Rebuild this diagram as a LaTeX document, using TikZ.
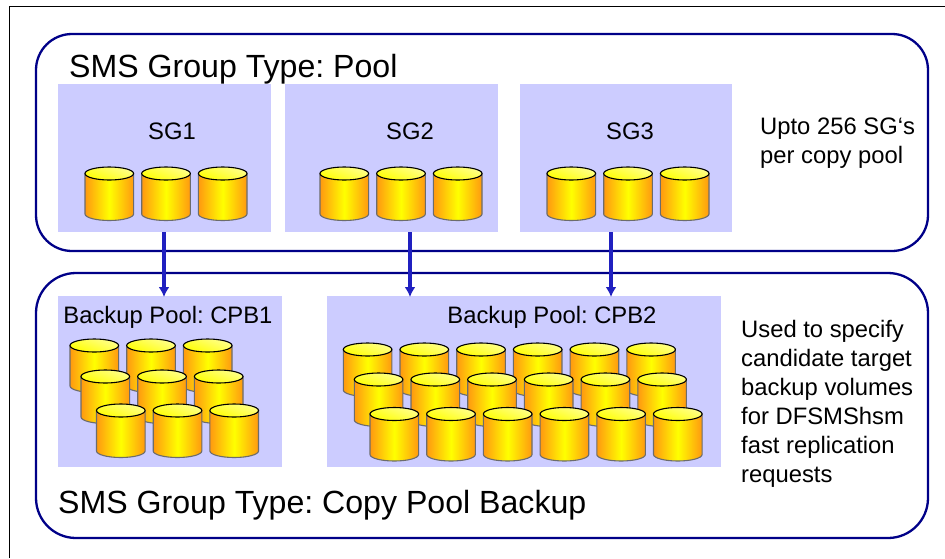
\documentclass[tikz,border=0pt]{standalone}
\usepackage{fontspec}
\setmainfont{Liberation Sans}
\usetikzlibrary{arrows.meta}
\definecolor{framenavy}{RGB}{0,0,136}
\definecolor{panelblue}{RGB}{204,204,255}
\definecolor{arrowblue}{RGB}{32,32,192}
\definecolor{diskorange}{RGB}{255,153,16}
\tikzset{
  groupbox/.style={draw=framenavy,line width=2.3pt,fill=white},
  poolarrow/.style={draw=arrowblue,line width=3.6pt,-{Latex[length=10pt,width=11pt]}},
  titletext/.style={anchor=base west,inner sep=0pt,font=\fontsize{32.1}{36}\selectfont\frenchspacing},
  labeltext/.style={anchor=base,inner sep=0pt,font=\fontsize{23.8}{29}\selectfont\frenchspacing},
  notetext/.style={anchor=north west,inner sep=0pt,align=left,font=\fontsize{23.8}{29}\selectfont\frenchspacing},
}
\newcommand{\disk}[2]{%
  \shade[left color=diskorange,right color=diskorange,middle color=yellow,draw=gray!85!black,line width=1.1pt]
    (#1,#2+6.5) -- (#1,#2+47) arc[start angle=180,end angle=0,x radius=24.3,y radius=6.5] -- (#1+48.6,#2+6.5) -- cycle;
  \shade[top color=yellow!45!white,bottom color=yellow,draw=black,line width=1.1pt,shading angle=-20]
    (#1+24.3,#2+6.5) ellipse[x radius=24.3,y radius=6.5];
}
\begin{document}
\begin{tikzpicture}[x=1pt,y=-1pt]
    \useasboundingbox (0,0) rectangle (945,558);
    \draw [line width=1pt] (9.5,558) -- (9.5,6) -- (945,6);
    \draw [groupbox,rounded corners=36] (36,34) rectangle (928,251);
    \draw [groupbox,rounded corners=40] (36,273) rectangle (928,538);

    \node [titletext] (pooltitle) at (69,77) {SMS Group Type: Pool};
    \node [titletext] (cpbtitle) at (58,513) {SMS Group Type: Copy Pool Backup};

    % storage groups
    \foreach \name/\x/\w/\dx/\lx in {SG1/58/213/85/172,SG2/285/213/320/410,SG3/520/212/547/630}{
      \fill [panelblue] (\x,84) rectangle +(\w,148);
      \node [labeltext] (\name) at (\lx,139) {\name};
      \foreach \i in {0,1,2}{
        \disk{\dx+56.7*\i}{167}
      }
    }

    % backup pools
    \fill [panelblue] (58,296) rectangle (282,467);
    \fill [panelblue] (327,296) rectangle (721,467);
    \node [labeltext] (cpbone) at (168,323) {Backup Pool: CPB1};
    \node [labeltext] (cpbtwo) at (552,323) {Backup Pool: CPB2};
    \foreach \x/\y in {70/339,81/370,96.5/404}{
      \foreach \i in {0,1,2}{
        \disk{\x+56.7*\i}{\y}
      }
    }
    \foreach \x/\y in {343.3/343,354.3/373,370/407.5}{
      \foreach \i in {0,...,5}{
        \disk{\x+56.7*\i}{\y}
      }
    }

    % connectors
    \coordinate (s1) at (164,232); \coordinate (t1) at (164,297);
    \coordinate (s2) at (410,232); \coordinate (t2) at (410,297);
    \coordinate (s3) at (611,232); \coordinate (t3) at (611,297);
    \foreach \n in {1,2,3}{
      \draw [poolarrow] (s\n) -- (t\n);
    }

    \node [notetext] (upto) at (760,118) {Upto 256 SG‘s\\per copy pool};
    \node [notetext] (usedto) at (741,320) {Used to specify\\candidate target\\backup volumes\\for DFSMShsm\\fast replication\\requests};
  \end{tikzpicture}
\end{document}
